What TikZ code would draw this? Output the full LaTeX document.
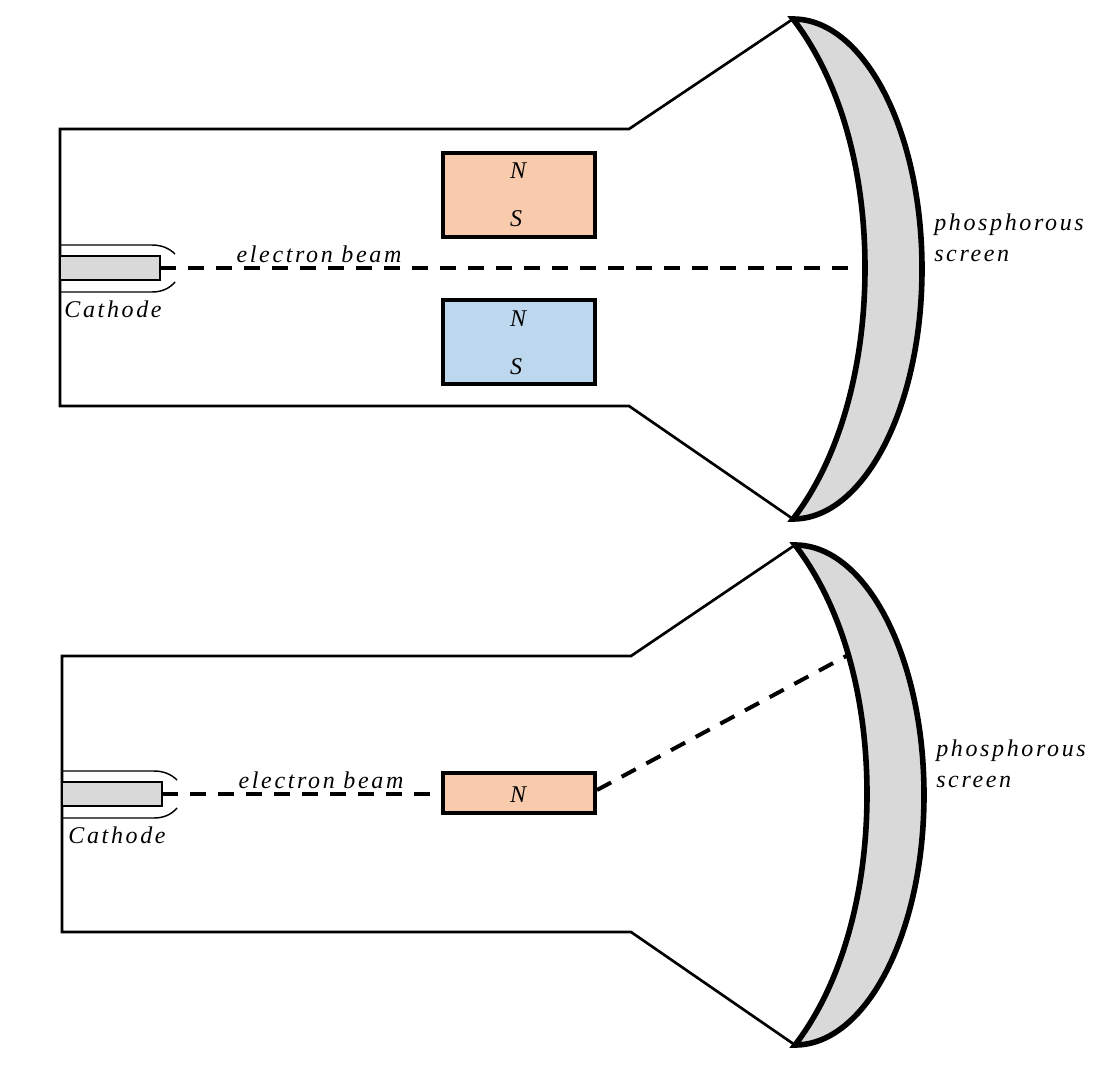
\documentclass[tikz,border=0pt]{standalone}
\usepackage{fontspec}
\setmainfont{Liberation Serif}
\tikzset{
	wall/.style={line width=2pt},
	hood/.style={line width=1.1pt},
	screen/.style={line width=4.2pt, fill=black!15},
	magnet/.style={draw, line width=2.9pt, outer sep=0pt, minimum width=114pt},
	cathode/.style={draw, line width=2.2pt, fill=black!15, outer sep=0pt, minimum width=75pt, minimum height=18pt, inner sep=0pt},
	beam/.style={line width=3pt, dash pattern=on 12pt off 9pt},
	label/.style={font=\fontsize{18pt}{23pt}\selectfont\itshape\addfontfeatures{LetterSpace=11}, inner sep=0pt, align=left}
}
\definecolor{northcol}{HTML}{F8CBAD}
\definecolor{southcol}{HTML}{BDD7EE}
\begin{document}
\begin{tikzpicture}[x=0.75pt,y=-0.75pt]
	\useasboundingbox (0,0) rectangle (1114,1077);

	% Upper tube
	\coordinate (wallA) at (60,129);
	\coordinate (wallB) at (60,406);
	\coordinate (neckA) at (629,129);
	\coordinate (neckB) at (629,406);
	\coordinate (tipA) at (793,19);
	\coordinate (tipB) at (793,519);
	\draw[wall] (tipA) -- (neckA) -- (wallA) -- (wallB) -- (neckB) -- (tipB);

	% Screen
	\draw[screen] (tipA) .. controls (864,19) and (922,131) .. (922,269)
		.. controls (922,407) and (864,519) .. (tipB)
		.. controls (840,458) and (865,366) .. (865,268)
		.. controls (865,170) and (840,80) .. (tipA) -- cycle;
	\node[label, anchor=west] (screenTextA) at (934,238) {phosphorous\\screen};

	% Cathode
	\draw[hood] (60,245) -- (152,245) .. controls (161,245) and (169,248) .. (175,254);
	\draw[hood] (60,292) -- (152,292) .. controls (161,292) and (169,289) .. (175,282);
	\node[cathode] (cathodeA) at (110,268) {};
	\node[label] (cathodeTextA) at (113,309) {Cathode};

	% Magnets
	\node[magnet, fill=northcol, minimum height=63pt] (northA) at (519,195) {};
	\node[magnet, fill=southcol, minimum height=63pt] (southA) at (519,342) {};
	\node[label] (nA) at (518,171) {N};
	\node[label] (sA) at (516,219) {S};
	\node[label] (nB) at (518,319) {N};
	\node[label] (sB) at (516,367) {S};

	% Beam
	\coordinate (hitA) at (852,268);
	\draw[beam] (cathodeA.east) -- (hitA);
	\node[label] (beamTextA) at (319,254) {electron beam};

	% Lower tube
	\coordinate (wallC) at (62,656);
	\coordinate (wallD) at (62,932);
	\coordinate (neckC) at (631,656);
	\coordinate (neckD) at (631,932);
	\coordinate (tipC) at (795,545);
	\coordinate (tipD) at (795,1045);
	\draw[wall] (tipC) -- (neckC) -- (wallC) -- (wallD) -- (neckD) -- (tipD);

	% Screen
	\draw[screen] (tipC) .. controls (866,545) and (924,657) .. (924,795)
		.. controls (924,933) and (866,1045) .. (tipD)
		.. controls (842,984) and (867,892) .. (867,794)
		.. controls (867,696) and (842,606) .. (tipC) -- cycle;
	\node[label, anchor=west] (screenTextB) at (936,764) {phosphorous\\screen};

	% Cathode
	\draw[hood] (62,771) -- (154,771) .. controls (163,771) and (171,774) .. (177,780);
	\draw[hood] (62,818) -- (154,818) .. controls (163,818) and (171,815) .. (177,808);
	\node[cathode] (cathodeB) at (112,794) {};
	\node[label] (cathodeTextB) at (117,835) {Cathode};

	% Magnet
	\node[magnet, fill=northcol, minimum height=30pt] (northB) at (519,793) {};
	\node[label] (nC) at (518,795) {N};

	% Beam
	\coordinate (stopB) at (436,794);
	\coordinate (leaveB) at (597,790);
	\coordinate (hitB) at (850,654);
	\draw[beam] (cathodeB.east) -- (stopB);
	\draw[beam] (leaveB) -- (hitB);
	\node[label] (beamTextB) at (321,780) {electron beam};
\end{tikzpicture}
\end{document}
